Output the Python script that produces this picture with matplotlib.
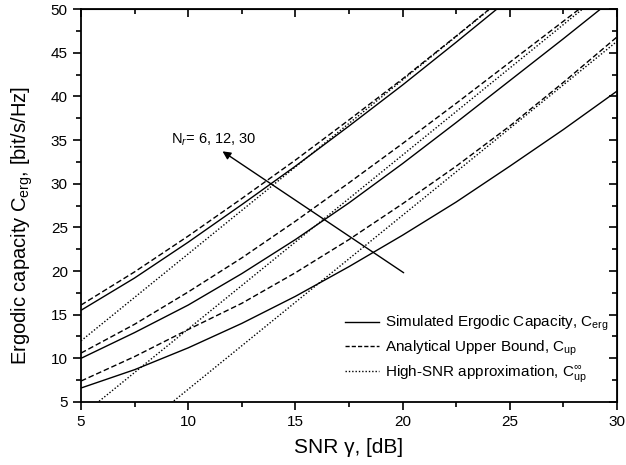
import matplotlib
matplotlib.use("Agg")
import matplotlib.pyplot as plt
from matplotlib.ticker import MultipleLocator

plt.rcParams['font.family'] = ['Liberation Sans', 'DejaVu Sans']
plt.rcParams['mathtext.fontset'] = 'custom'
plt.rcParams['mathtext.rm'] = 'Liberation Sans'
plt.rcParams['mathtext.it'] = 'Liberation Sans:italic'

# SNR grid (dB) used for the curve readings
snr = [5, 7.5, 10, 12.5, 15, 17.5, 20, 22.5, 25, 27.5, 30]

# Simulated ergodic capacity (solid) for Nr = 6, 12, 30
sim_nr6 = [6.6, 8.7, 11.2, 14.0, 17.1, 20.5, 24.1, 27.9, 32.0, 36.2, 40.6]
sim_nr12 = [10.0, 12.95, 16.1, 19.7, 23.6, 27.8, 32.3, 37.0, 41.8, 46.6, 51.5]
sim_nr30 = [15.5, 19.2, 23.3, 27.6, 32.0, 36.6, 41.3, 46.2, 51.2, 56.3, 61.4]

# Analytical upper bound (dashed)
ub_nr6 = [7.4, 10.2, 13.3, 16.3, 19.8, 23.6, 27.7, 32.0, 36.6, 41.6, 46.8]
ub_nr12 = [10.6, 13.9, 17.6, 21.5, 25.7, 30.1, 34.6, 39.2, 43.9, 48.6, 53.3]
ub_nr30 = [16.1, 19.9, 24.0, 28.3, 32.7, 37.3, 42.0, 46.9, 51.9, 56.9, 61.9]

# High-SNR approximation (dotted, straight lines)
hs_snr = [5, 30]
hs_nr6 = [-3.5, 46.3]
hs_nr12 = [3.4, 53.2]
hs_nr30 = [12.0, 61.8]

fig = plt.figure(figsize=(6.26, 4.65), dpi=100)
ax = fig.add_axes([0.1294, 0.1355, 0.8562, 0.8451])

lw = 1.0
dash = (0, (4, 2))
dot = (0, (1, 1.4))

for sim, ub, hs in [(sim_nr6, ub_nr6, hs_nr6),
                    (sim_nr12, ub_nr12, hs_nr12),
                    (sim_nr30, ub_nr30, hs_nr30)]:
    ax.plot(snr, sim, color='black', lw=lw, ls='-')
    ax.plot(snr, ub, color='black', lw=lw, ls=dash)
    ax.plot(hs_snr, hs, color='black', lw=lw, ls=dot)

# legend proxies
ax.plot([], [], color='black', lw=lw, ls='-',
        label=r'Simulated Ergodic Capacity, C$_{\mathrm{erg}}$')
ax.plot([], [], color='black', lw=lw, ls=(0, (3, 1.5)),
        label=r'Analytical Upper Bound, C$_{\mathrm{up}}$')
ax.plot([], [], color='black', lw=lw, ls=dot,
        label=r'High-SNR approximation, C$_{\mathrm{up}}^{\infty}$')

ax.legend(loc='lower left', bbox_to_anchor=(0.467, 0.01), frameon=False,
          fontsize=11, handlelength=2.2, handletextpad=0.4,
          labelspacing=0.35)

ax.annotate('', xy=(11.6, 33.7), xytext=(20.05, 19.8),
            arrowprops=dict(arrowstyle='-|>', color='black', lw=1.0,
                            mutation_scale=12, shrinkA=0, shrinkB=0))
ax.text(9.2, 35.0, r'N$_r$= 6, 12, 30', fontsize=10.5, va='center', ha='left')

ax.set_xlim(5, 30)
ax.set_ylim(5, 50)
ax.xaxis.set_major_locator(MultipleLocator(5))
ax.xaxis.set_minor_locator(MultipleLocator(2.5))
ax.yaxis.set_major_locator(MultipleLocator(5))
ax.yaxis.set_minor_locator(MultipleLocator(2.5))
ax.tick_params(which='both', direction='out', labelsize=11, width=1.2)
ax.tick_params(which='major', length=6)
ax.tick_params(which='minor', length=3.5)

for sp in ax.spines.values():
    sp.set_linewidth(1.3)

top = ax.secondary_xaxis('top')
top.xaxis.set_major_locator(MultipleLocator(5))
top.xaxis.set_minor_locator(MultipleLocator(2.5))
top.tick_params(which='both', direction='in', labeltop=False, width=1.2)
top.tick_params(which='major', length=6)
top.tick_params(which='minor', length=3.5)
right = ax.secondary_yaxis('right')
right.yaxis.set_major_locator(MultipleLocator(5))
right.yaxis.set_minor_locator(MultipleLocator(2.5))
right.tick_params(which='both', direction='in', labelright=False, width=1.2)
right.tick_params(which='major', length=6)
right.tick_params(which='minor', length=3.5)

ax.set_xlabel('SNR γ, [dB]', fontsize=15, labelpad=6)
ax.set_ylabel(r'Ergodic capacity C$_{\mathrm{erg}}$, [bit/s/Hz]', fontsize=14.5)
ax.yaxis.set_label_coords(-0.085, 0.45)

fig.savefig('out.png', dpi=100)
